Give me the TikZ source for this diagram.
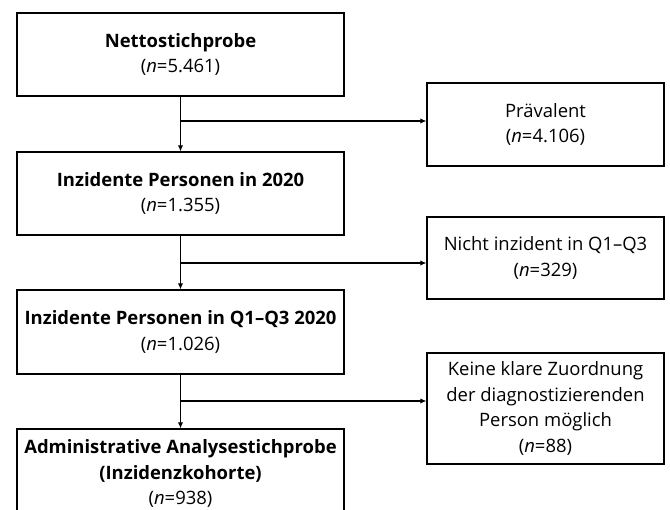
\documentclass[tikz,border=0pt]{standalone}
\usepackage{fontspec}
\setmainfont{Open Sans}
\usetikzlibrary{arrows.meta}

\tikzset{
  box/.style={draw, line width=0.6pt, align=center, inner sep=2pt,
    minimum width=6.54cm, minimum height=1.66cm,
    font=\fontsize{10.5}{14.6}\selectfont},
  sidebox/.style={box, minimum width=4.74cm},
  arr/.style={-{Latex[length=3.5pt,width=3pt]}, line width=0.6pt},
}
\newcommand{\nn}[1]{(\textit{n}=#1)}

\begin{document}
\begin{tikzpicture}
	\useasboundingbox (0,0) rectangle (13.4,10.18);
	% left column
	\node[box] (netto) at (3.61,9.09) {\textbf{Nettostichprobe}\\\nn{5.461}};
	\node[box] (inz)   at (3.61,6.31) {\textbf{Inzidente Personen in 2020}\\\nn{1.355}};
	\node[box, minimum height=1.68cm] (inzq) at (3.61,3.54) {\textbf{Inzidente Personen in Q1–Q3 2020}\\\nn{1.026}};
	\node[box, minimum height=1.78cm] (admin) at (3.61,0.71) {\textbf{Administrative Analysestichprobe}\\\textbf{(Inzidenzkohorte)}\\\nn{938}};
	% right column
	\node[sidebox] (praev) at (10.91,7.69) {Prävalent\\\nn{4.106}};
	\node[sidebox, minimum height=1.64cm] (nicht) at (10.91,5.02) {Nicht inzident in Q1–Q3\\\nn{329}};
	\node[sidebox, minimum height=2.22cm] (keine) at (10.91,2.01) {Keine klare Zuordnung\\der diagnostizierenden\\Person möglich\\\nn{88}};
	% main flow
	\draw[arr] (netto) -- (inz);
	\draw[arr] (inz) -- (inzq);
	\draw[arr] (inzq) -- (admin);
	% exclusions
	\coordinate (b1) at (3.61,7.76);
	\coordinate (b2) at (3.61,4.92);
	\coordinate (b3) at (3.61,2.16);
	\draw[arr] (b1) -- (b1 -| praev.west);
	\draw[arr] (b2) -- (b2 -| nicht.west);
	\draw[arr] (b3) -- (b3 -| keine.west);
\end{tikzpicture}
\end{document}
